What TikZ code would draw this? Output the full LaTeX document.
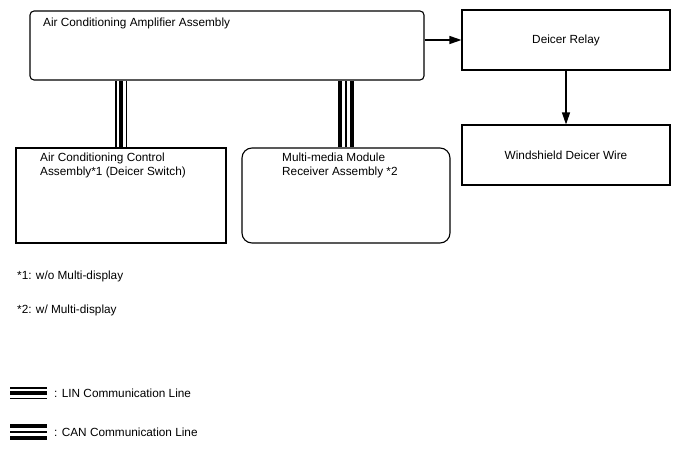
\documentclass[tikz,border=0pt]{standalone}
\usepackage{fontspec}
\setmainfont{Liberation Sans}
\usetikzlibrary{arrows.meta,backgrounds}

\begin{document}
\begin{tikzpicture}[x=1pt,y=-1pt,
  box/.style={draw,line width=1.1pt,inner sep=0pt},
  txt/.style={inner sep=0pt,font=\fontsize{11.8}{14}\selectfont,align=left},
  lin/.style={line width=11.5pt,postaction={draw=white,line width=9pt},postaction={draw=black,line width=4pt}},
  can/.style={line width=16pt,postaction={draw=white,line width=8pt},postaction={draw=black,line width=1.2pt}},
  arr/.style={line width=1.1pt,-{Triangle[length=12pt,width=8pt]}}]

\useasboundingbox (0,0) rectangle (688,463);

\node at (227,45.5) [box,rounded corners=4pt,minimum width=394pt,minimum height=69pt] (amp) {};
\node at (43,27) [txt,anchor=base west] (ampText) {Air Conditioning Amplifier Assembly};

\node at (566,40) [box,txt,minimum width=208pt,minimum height=60pt] (relay) {Deicer Relay};
\node at (566,155) [box,txt,minimum width=208pt,minimum height=60pt] (wire) {Windshield Deicer Wire};

\node at (121,195.5) [box,minimum width=210pt,minimum height=95pt] (ctrl) {};
\node at (40,175) [txt,anchor=base west] (ctrlText) {Air Conditioning Control\\Assembly*1 (Deicer Switch)};

\node at (346,195.5) [box,rounded corners=10pt,minimum width=208pt,minimum height=95pt] (multi) {};
\node at (282,175) [txt,anchor=base west] (multiText) {Multi-media Module\\Receiver Assembly *2};

\begin{scope}[on background layer]
\draw[lin] (ctrl.north) -- (ctrl.north |- amp.south);
\draw[can] (multi.north) -- (multi.north |- amp.south);
\end{scope}

\draw[arr] (amp.east |- relay.west) -- (relay.west);
\draw[arr] (relay) -- (wire);

\node at (17,279) [txt,anchor=base west] (noteA) {*1: w/o Multi-display};
\node at (17,313) [txt,anchor=base west] (noteB) {*2: w/ Multi-display};

\draw[lin] (10,393) -- (47,393);
\node at (54,397.5) [txt,anchor=base west] (linText) {: LIN Communication Line};
\draw[can] (10,432) -- (47,432);
\node at (54,436.5) [txt,anchor=base west] (canText) {: CAN Communication Line};

\end{tikzpicture}
\end{document}
